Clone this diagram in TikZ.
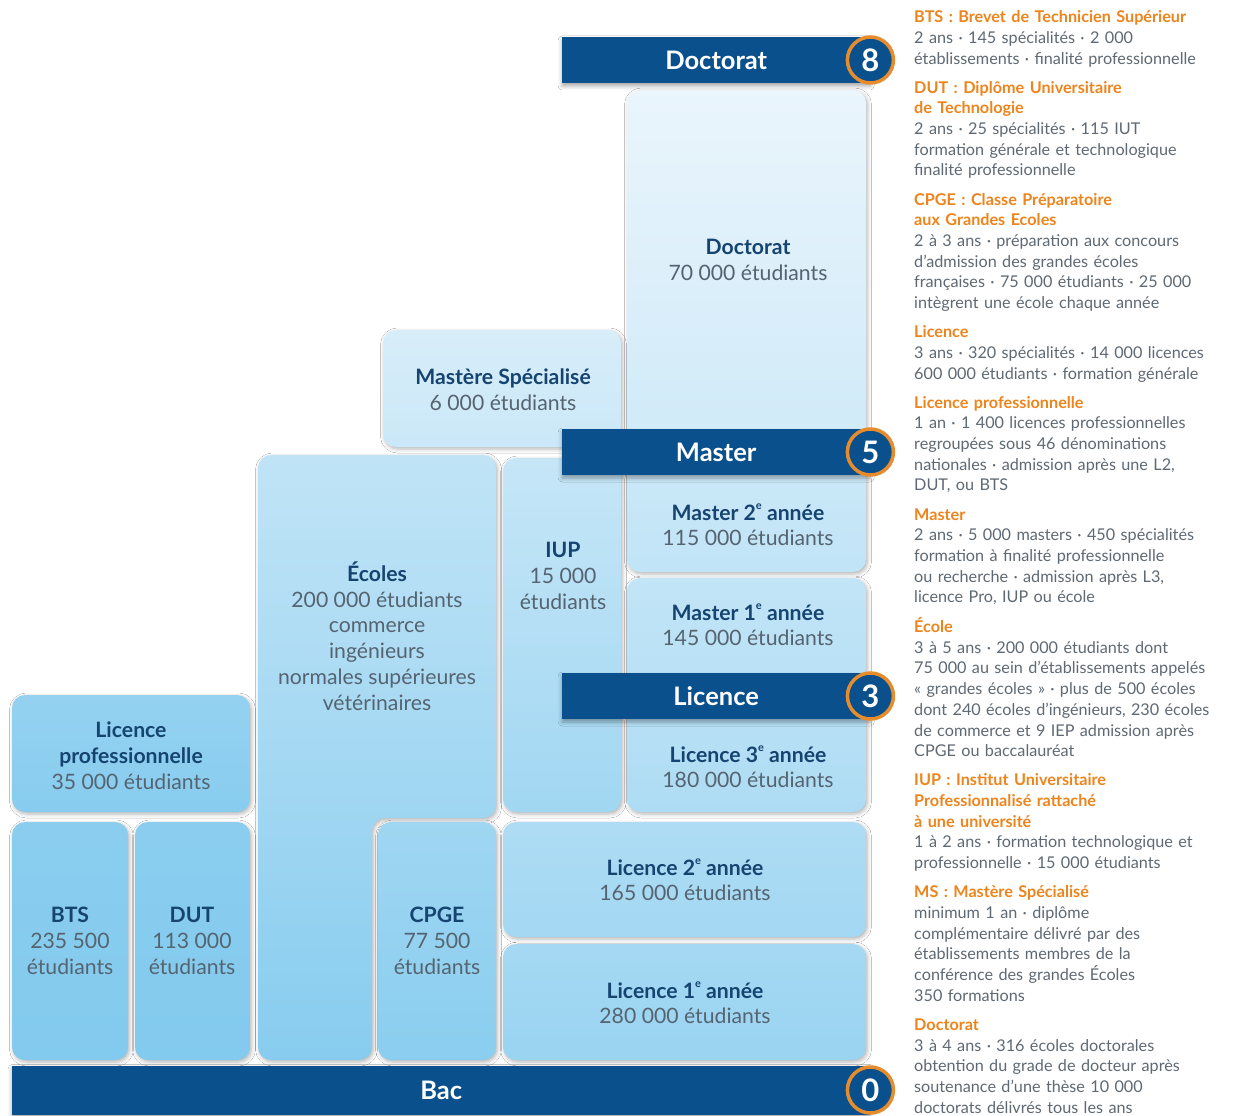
\documentclass[tikz,border=0pt]{standalone}
\usepackage{fontspec}
\setmainfont{Lato}
\usepackage{xcolor}
\usepackage{tikz}
\usetikzlibrary{positioning,shadows.blur}

\definecolor{barblue}{RGB}{10,80,140}
\definecolor{ringorange}{RGB}{230,140,45}
\definecolor{headorange}{RGB}{238,132,28}
\definecolor{navyhead}{RGB}{22,68,112}
\definecolor{cellgray}{RGB}{85,100,112}
\definecolor{infogray}{RGB}{95,105,115}
\definecolor{deep}{RGB}{130,202,238}
\definecolor{pale}{RGB}{234,245,252}

\newcommand{\hd}[1]{{\color{navyhead}\bfseries #1}}
\newcommand{\ihd}[1]{{\color{headorange}\bfseries #1}}
\newcommand{\yr}{\raisebox{0.5em}{\fontsize{11}{11}\selectfont e}}

\begin{document}
\begin{tikzpicture}[x=1pt, y=-1pt,
  cell/.style 2 args={rounded corners=13pt, top color=deep!#1!pale, bottom color=deep!#2!pale,
    blur shadow={shadow xshift=1.5pt, shadow yshift=-2pt, shadow blur radius=4pt, shadow opacity=30}},
  celltext/.style={align=center, text=cellgray, inner sep=0pt, font=\fontsize{21.2}{25.8}\selectfont},
  bar/.style={fill=barblue, text=white, minimum height=46pt, inner sep=0pt,
    font=\fontsize{25.5}{25.5}\selectfont\bfseries,
    blur shadow={shadow xshift=0pt, shadow yshift=-3pt, shadow blur radius=4pt, shadow opacity=35}},
  num/.style={circle, fill=barblue, draw=ringorange, line width=3.5pt, minimum size=46pt, inner sep=0pt,
    text=white, font=\fontsize{31}{31}\selectfont\bfseries},
  info/.style={text width=330pt, align=left, inner sep=0pt, text=infogray,
    font=\fontsize{16.2}{20.7}\selectfont, execute at begin node=\strut, execute at end node=\strut}]
  \path[use as bounding box, fill=white] (0,0) rectangle (1246,1115);

  % blocks, top to bottom
  \path[cell={0}{25}] (627,90) rectangle (866,440);
  \path[cell={18}{30}] (383,330) rectangle (621,447);
  \path[cell={40}{95}] (258,455) -- (496,455) -- (496,818) -- (372,818) -- (372,1060) -- (258,1060) -- cycle;
  \path[cell={35}{70}] (503,458) rectangle (621,812);
  \path[cell={30}{40}] (627,466) rectangle (866,572);
  \path[cell={38}{48}] (627,578) rectangle (866,685);
  \path[cell={48}{58}] (627,708) rectangle (866,812);
  \path[cell={58}{68}] (503,822) rectangle (866,937);
  \path[cell={66}{78}] (503,944) rectangle (866,1060);
  \path[cell={72}{92}] (378,822) rectangle (496,1060);
  \path[cell={82}{95}] (12,695) rectangle (250,812);
  \path[cell={92}{100}] (12,822) rectangle (128,1060);
  \path[cell={92}{100}] (135,822) rectangle (250,1060);

  \node[celltext] (doc) at (748,260) {\hd{Doctorat}\\70 000 étudiants};
  \node[celltext] (ms) at (503,390) {\hd{Mastère Spécialisé}\\6 000 étudiants};
  \node[celltext] (ecoles) at (377,636) {\hd{Écoles}\\200 000 étudiants\\commerce\\ingénieurs\\normales supérieures\\vétérinaires};
  \node[celltext] (iup) at (563,576) {\hd{IUP}\\15 000\\étudiants};
  \node[celltext] (m2) at (748,525) {\hd{Master 2\yr{} année}\\115 000 étudiants};
  \node[celltext] (m1) at (748,625) {\hd{Master 1\yr{} année}\\145 000 étudiants};
  \node[celltext] (l3) at (748,767) {\hd{Licence 3\yr{} année}\\180 000 étudiants};
  \node[celltext] (l2) at (685,880) {\hd{Licence 2\yr{} année}\\165 000 étudiants};
  \node[celltext] (l1) at (685,1003) {\hd{Licence 1\yr{} année}\\280 000 étudiants};
  \node[celltext] (cpge) at (437,941) {\hd{CPGE}\\77 500\\étudiants};
  \node[celltext] (lpro) at (131,756) {\hd{Licence}\\\hd{professionnelle}\\35 000 étudiants};
  \node[celltext] (bts) at (70,941) {\hd{BTS}\\235 500\\étudiants};
  \node[celltext] (dut) at (192,941) {\hd{DUT}\\113 000\\étudiants};

  % level bars with their year count
  \node[bar, minimum width=308pt, anchor=west] (bardoc) at (562,60) {Doctorat};
  \node[bar, minimum width=308pt, anchor=west] (barmaster) at (562,452) {Master};
  \node[bar, minimum width=308pt, anchor=west] (barlic) at (562,696) {Licence};
  \node[bar, minimum width=858pt, minimum height=49pt, anchor=west] (barbac) at (12,1090) {Bac};
  \node[num] (n8) at (bardoc.east) {8};
  \node[num] (n5) at (barmaster.east) {5};
  \node[num] (n3) at (barlic.east) {3};
  \node[num] (n0) at (barbac.east) {0};

  % glossary column
  \node[info, anchor=north west] (ibts) at (914,8) {\ihd{BTS : Brevet de Technicien Supérieur}\\2 ans · 145 spécialités · 2 000\\établissements · finalité professionnelle};
  \node[info, below=8pt of ibts.south west, anchor=north west] (idut) {\ihd{DUT : Diplôme Universitaire}\\\ihd{de Technologie}\\2 ans · 25 spécialités · 115 IUT\\formation générale et technologique\\finalité professionnelle};
  \node[info, below=8pt of idut.south west, anchor=north west] (icpge) {\ihd{CPGE : Classe Préparatoire}\\\ihd{aux Grandes Ecoles}\\2 à 3 ans · préparation aux concours\\d'admission des grandes écoles\\françaises · 75 000 étudiants · 25 000\\intègrent une école chaque année};
  \node[info, below=8pt of icpge.south west, anchor=north west] (ilic) {\ihd{Licence}\\3 ans · 320 spécialités · 14 000 licences\\600 000 étudiants · formation générale};
  \node[info, below=8pt of ilic.south west, anchor=north west] (ilpro) {\ihd{Licence professionnelle}\\1 an · 1 400 licences professionnelles\\regroupées sous 46 dénominations\\nationales · admission après une L2,\\DUT, ou BTS};
  \node[info, below=8pt of ilpro.south west, anchor=north west] (imaster) {\ihd{Master}\\2 ans · 5 000 masters · 450 spécialités\\formation à finalité professionnelle\\ou recherche · admission après L3,\\licence Pro, IUP ou école};
  \node[info, below=8pt of imaster.south west, anchor=north west] (iecole) {\ihd{École}\\3 à 5 ans · 200 000 étudiants dont\\75 000 au sein d'établissements appelés\\« grandes écoles » · plus de 500 écoles\\dont 240 écoles d'ingénieurs, 230 écoles\\de commerce et 9 IEP admission après\\CPGE ou baccalauréat};
  \node[info, below=8pt of iecole.south west, anchor=north west] (iiup) {\ihd{IUP : Institut Universitaire}\\\ihd{Professionnalisé rattaché}\\\ihd{à une université}\\1 à 2 ans · formation technologique et\\professionnelle · 15 000 étudiants};
  \node[info, below=8pt of iiup.south west, anchor=north west] (ims) {\ihd{MS : Mastère Spécialisé}\\minimum 1 an · diplôme\\complémentaire délivré par des\\établissements membres de la\\conférence des grandes Écoles\\350 formations};
  \node[info, below=8pt of ims.south west, anchor=north west] (idoc) {\ihd{Doctorat}\\3 à 4 ans · 316 écoles doctorales\\obtention du grade de docteur après\\soutenance d'une thèse 10 000\\doctorats délivrés tous les ans};
\end{tikzpicture}
\end{document}
